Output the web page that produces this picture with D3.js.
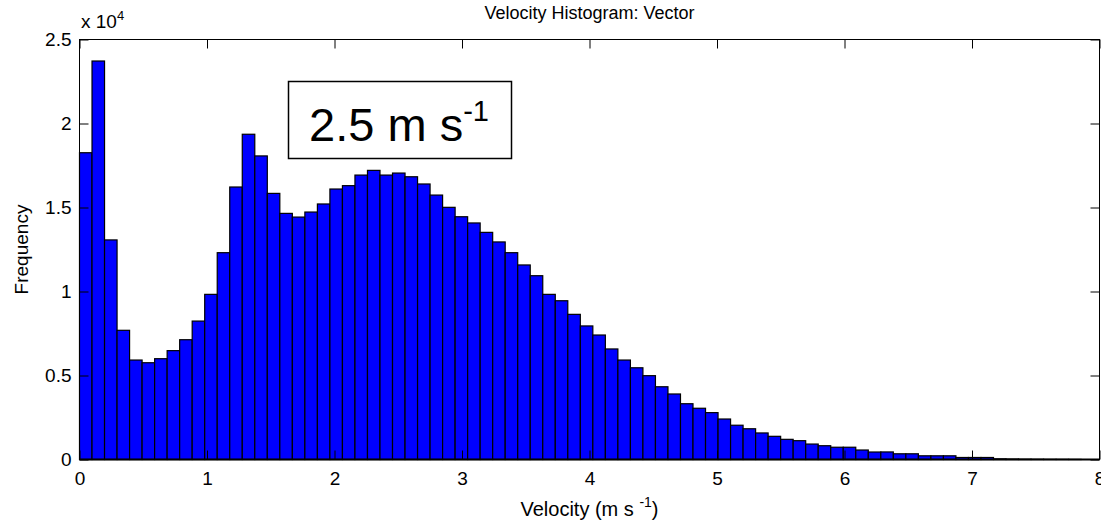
<!DOCTYPE html>
<html>
<head>
<meta charset="utf-8">
<script src="https://cdn.jsdelivr.net/npm/d3@7"></script>
<style>
  html, body { margin: 0; padding: 0; background: #fff; }
  svg { display: block; font-family: "Liberation Sans", Arial, sans-serif; }
</style>
</head>
<body>
<svg id="chart" width="1101" height="523"></svg>
<script>
// ---- data ----
const binWidth = 0.0982;
const counts = [
  18260, 23720, 13070, 7690, 5920, 5760, 6000, 6480, 7130, 8240,
  9830, 12310, 16220, 19360, 18070, 15840, 14650, 14430, 14730, 15210,
  16100, 16300, 16930, 17210, 16930, 17050, 16830, 16400, 15740, 15010,
  14450, 14080, 13520, 12950, 12310, 11580, 10940, 9830, 9450, 8640,
  7950, 7410, 6580, 5920, 5460, 4990, 4330, 3900, 3320, 3050,
  2790, 2410, 2040, 1830, 1580, 1380, 1200, 1120, 920, 820,
  730, 730, 565, 446, 450, 340, 340, 220, 220, 220,
  120, 120, 120, 40, 30, 20, 15, 10, 8, 5
];
const xTicks = [0, 1, 2, 3, 4, 5, 6, 7, 8];
const yTicks = [0, 5000, 10000, 15000, 20000, 25000];
const yTickLabels = ["0", "0.5", "1", "1.5", "2", "2.5"];
const titleText = "Velocity Histogram: Vector";
const annotationValue = "2.5 m s";
const annotationExp = "-1";

// ---- layout ----
const L = 79.5, R = 1099.5, T = 39.5, B = 459.5;
const svg = d3.select("#chart");
const x = d3.scaleLinear().domain([0, 8]).range([L, R]);
const y = d3.scaleLinear().domain([0, 25000]).range([B, T]);
const fs = 19;

// bars
svg.append("g").selectAll("rect")
  .data(counts)
  .join("rect")
  .attr("x", (d, i) => x(i * binWidth))
  .attr("width", (d, i) => x((i + 1) * binWidth) - x(i * binWidth))
  .attr("y", d => y(d))
  .attr("height", d => B - y(d))
  .attr("fill", "#0000ff")
  .attr("stroke", "#000")
  .attr("stroke-width", 1.2);

// axes (ticks inside, box on)
const tickLen = 9;
function styleAxis(g) {
  g.select(".domain").remove();
  g.selectAll(".tick line").attr("stroke", "#000").attr("stroke-width", 1);
  g.selectAll("text").attr("fill", "#000").style("font-size", fs + "px")
    .style("font-family", '"Liberation Sans", Arial, sans-serif');
}
svg.append("g").attr("transform", `translate(0,${B})`)
  .call(d3.axisBottom(x).tickValues(xTicks).tickSize(-tickLen).tickPadding(12).tickFormat(d3.format("d")))
  .call(styleAxis);
svg.append("g").attr("transform", `translate(0,${T})`)
  .call(d3.axisTop(x).tickValues(xTicks).tickSize(-tickLen).tickFormat(""))
  .call(styleAxis);
svg.append("g").attr("transform", `translate(${L},0)`)
  .call(d3.axisLeft(y).tickValues(yTicks).tickSize(-tickLen).tickPadding(8)
    .tickFormat((d, i) => yTickLabels[i]))
  .call(styleAxis);
svg.append("g").attr("transform", `translate(${R},0)`)
  .call(d3.axisRight(y).tickValues(yTicks).tickSize(-tickLen).tickFormat(""))
  .call(styleAxis);

// box
svg.append("rect").attr("x", L).attr("y", T).attr("width", R - L).attr("height", B - T)
  .attr("fill", "none").attr("stroke", "#000").attr("stroke-width", 1);
svg.append("line").attr("x1", L).attr("x2", R).attr("y1", B).attr("y2", B)
  .attr("stroke", "#000").attr("stroke-width", 2);

// exponent label
const ex = svg.append("text").attr("x", 81).attr("y", 28).style("font-size", fs + "px");
ex.append("tspan").text("x 10");
ex.append("tspan").attr("dy", -8).style("font-size", "13px").text("4");

// title
svg.append("text").attr("x", (L + R) / 2).attr("y", 19).attr("text-anchor", "middle")
  .style("font-size", "18px").text(titleText);

// x label
const xl = svg.append("text").attr("x", (L + R) / 2).attr("y", 516).attr("text-anchor", "middle")
  .style("font-size", "20px");
xl.append("tspan").text("Velocity (m s ");
xl.append("tspan").attr("dy", -9).style("font-size", "14px").text("-1");
xl.append("tspan").attr("dy", 9).text(")");

// y label
svg.append("text").attr("transform", `translate(28,${(T + B) / 2}) rotate(-90)`)
  .attr("text-anchor", "middle").style("font-size", fs + "px").text("Frequency");

// annotation box
svg.append("rect").attr("x", 288.5).attr("y", 81.5).attr("width", 223).attr("height", 77)
  .attr("fill", "#fff").attr("stroke", "#000").attr("stroke-width", 1.5);
const an = svg.append("text").attr("x", 399).attr("y", 141).attr("text-anchor", "middle")
  .style("font-size", "47px");
an.append("tspan").text(annotationValue);
an.append("tspan").attr("dy", -20).style("font-size", "29px").text(annotationExp);
</script>
</body>
</html>
